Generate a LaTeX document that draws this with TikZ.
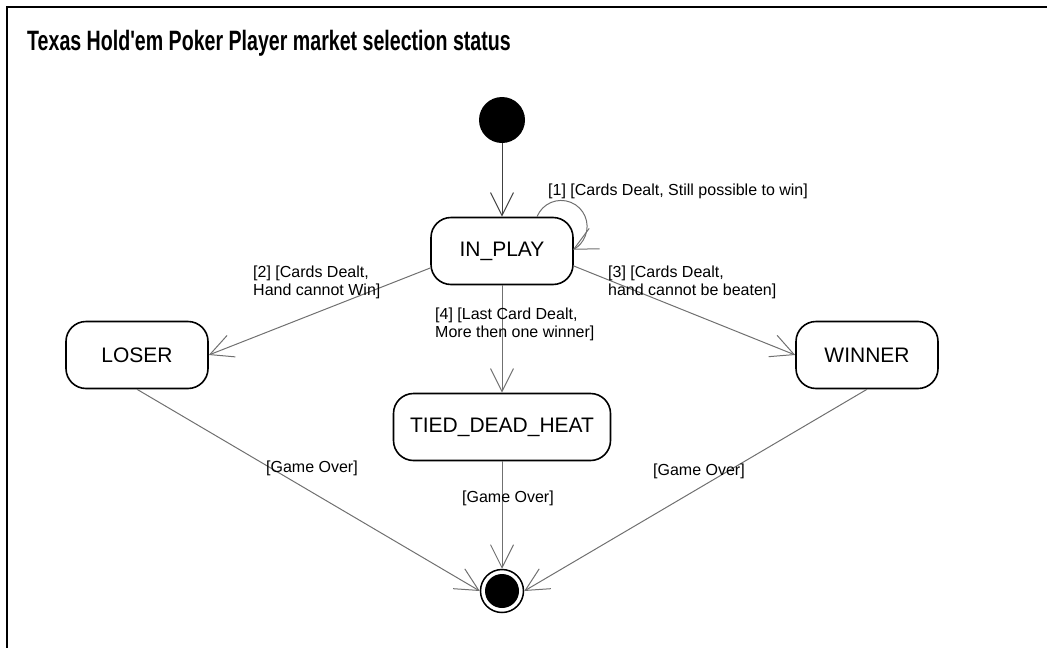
\documentclass[tikz,border=0pt]{standalone}
\usepackage{fontspec}
\setmainfont{Liberation Sans}
\newfontfamily\headfont[FakeStretch=0.70]{Liberation Sans}
\usepackage{xcolor}
\usetikzlibrary{arrows.meta, positioning}
\definecolor{edgegray}{RGB}{112,112,112}

\begin{document}
\begin{tikzpicture}[x=1pt, y=-1pt,
  state/.style={draw=black, line width=1.6pt, rounded corners=20pt,
                minimum width=142pt, minimum height=67pt, inner sep=0pt,
                font=\fontsize{21}{24}\selectfont},
  startdot/.style={circle, fill=black, minimum size=46pt, inner sep=0pt},
  enddot/.style={circle, draw=black, fill=white, line width=1.5pt,
                 minimum size=43pt, inner sep=0pt},
  trans/.style={draw=edgegray, line width=1pt,
                -{Straight Barb[length=23pt, width=23pt]}},
  lbl/.style={font=\fontsize{16}{17.5}\selectfont, align=left, inner sep=0pt}
]
\useasboundingbox (0,0) rectangle (1047,648);

% frame and title
\draw[line width=1.5pt] (7,648) -- (7,7) -- (1047,7);
\node[anchor=base west, inner sep=0pt, font=\headfont\fontsize{28}{32}\selectfont\bfseries]
  (title) at (27,50) {Texas Hold'em Poker Player market selection status};

% states
\node[startdot] (init) at (502,120) {};
\node[state] (inplay) at (502,251) {IN\_PLAY};
\node[state] (loser)  at (137,355) {LOSER};
\node[state] (winner) at (867,355) {WINNER};
\node[state, minimum width=217pt] (tied) at (502,427) {TIED\_DEAD\_HEAT};
\node[enddot] (final) at (502,591) {};
\fill (final.center) circle (17);

% transitions
\draw[trans, draw=black!75] (init) -- (inplay);
\draw[trans] ([xshift=35pt]inplay.north) arc[start angle=202, end angle=423, radius=26];
\draw[trans] ([yshift=-17pt]inplay.west) -- (loser.east);
\draw[trans] ([yshift=-15pt]inplay.east) -- (winner.west);
\draw[trans] (inplay) -- (tied);
\draw[trans] (loser.south) -- (final.west);
\draw[trans] (tied) -- (final);
\draw[trans] (winner.south) -- (final.east);

% guards
\node[lbl, anchor=base west] (gone) at (548,195) {[1] [Cards Dealt, Still possible to win]};
\node[lbl, anchor=north west] (gtwo) at (253,266) {[2] [Cards Dealt,\\Hand cannot Win]};
\node[lbl, anchor=north west] (gthree) at (608,266) {[3] [Cards Dealt,\\hand cannot be beaten]};
\node[lbl, anchor=north west] (gfour) at (435,308) {[4] [Last Card Dealt,\\More then one winner]};
\node[lbl, anchor=base west] (overl) at (266,472) {[Game Over]};
\node[lbl, anchor=base west] (overm) at (462,502) {[Game Over]};
\node[lbl, anchor=base west] (overr) at (653,475) {[Game Over]};

\end{tikzpicture}
\end{document}
